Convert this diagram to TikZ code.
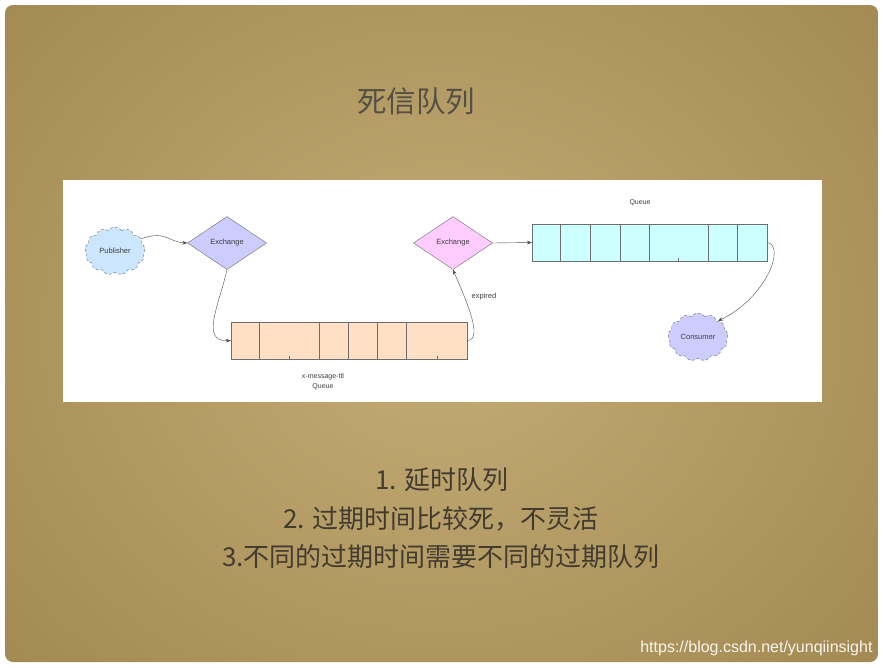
\documentclass[tikz,border=0pt]{standalone}
\usepackage{fontspec}
\usepackage{xcolor}
\usepackage{tikz}
\usetikzlibrary{arrows.meta,shapes.geometric,shapes.symbols,calc,positioning}
\setmainfont{Liberation Sans}
\newfontfamily\cjk{Noto Sans CJK SC}
\definecolor{slideinner}{HTML}{C4AC76}
\definecolor{slideouter}{HTML}{9A8048}
\definecolor{slidetext}{HTML}{423C30}
\definecolor{pubblue}{HTML}{CCE6FF}
\definecolor{lavender}{HTML}{CCCCFF}
\definecolor{pinkex}{HTML}{FFCCFF}
\definecolor{peach}{HTML}{FFE0C4}
\definecolor{cyanq}{HTML}{CCFFFF}
\definecolor{edgegray}{HTML}{6E6E6E}
\tikzset{
  lbl/.style={font=\fontsize{7.5}{8}\selectfont, text=black!75},
  exchange/.style={diamond, draw=edgegray, aspect=1.5, inner sep=0pt,
    minimum width=79pt, minimum height=53pt, lbl},
  cloudnode/.style={cloud, cloud puffs=13, cloud puff arc=110, draw=edgegray,
    densely dashed, aspect=1.3, minimum width=60pt, minimum height=48pt,
    inner sep=0pt, lbl},
  queuebox/.style={draw=edgegray, rectangle, inner sep=0pt, minimum height=37pt},
  flow/.style={->, draw=black!70, thin},
  note/.style={font=\cjk\fontsize{26}{28}\selectfont, text=slidetext},
}
\begin{document}
\begin{tikzpicture}[x=1pt,y=-1pt,>=Stealth]
  \useasboundingbox (0,0) rectangle (883,667);
  % slide
  \fill[white] (0,0) rectangle (883,667);
  \begin{scope}
    \clip[rounded corners=8pt] (5,5) rectangle (878,662);
    \shade[inner color=slideinner, outer color=slideouter]
      (-309,-320) rectangle (1191,980);
  \end{scope}
  \node[font=\cjk\fontsize{29.5}{31}\selectfont, text=slidetext!90] (title) at (416,101) {死信队列};
  % diagram panel
  \fill[white] (63,180) rectangle (822,402);
  \node[cloudnode, fill=pubblue] (pub) at (115,251) {Publisher};
  \node[exchange, fill=lavender] (exA) at (227,243) {Exchange};
  \node[exchange, fill=pinkex] (exB) at (453,243) {Exchange};
  \node[queuebox, fill=peach, minimum width=236pt] (qttl) at (349,340.5) {};
  \foreach \x in {259,319,348,377,406}
    \draw[edgegray] (\x,322) -- (\x,359);
  \foreach \x in {289,437}
    \draw[edgegray] (\x,356) -- (\x,359);
  \node[queuebox, fill=cyanq, minimum width=235pt] (qdl) at (649.5,242.5) {};
  \foreach \x in {560,590,620,649,708,737}
    \draw[edgegray] (\x,224) -- (\x,261);
  \draw[edgegray] (678,258) -- (678,261);
  \node[cloudnode, fill=lavender] (con) at (698,337) {Consumer};
  \node[lbl, align=center, font=\fontsize{7}{10}\selectfont] (ttllbl) at (323,382) {x-message-ttl\\Queue};
  \node[lbl, font=\fontsize{7}{8}\selectfont] (qlbl) at (640,203) {Queue};
  \node[lbl] (explbl) at (484,297) {expired};
  % connectors
  \draw[flow] (pub.25) .. controls (166,230) and (168,242) .. (exA.west);
  \draw[flow] (exA.south) .. controls (219,305) and (200,342) .. (qttl.west);
  \draw[flow] (qttl.east) .. controls (484,340) and (466,300) .. (exB.south);
  \draw[flow] (exB.east) -- (qdl.west);
  \draw[flow] (qdl.east) .. controls (786,246) and (766,298) .. (con.north east);
  % notes
  \node[note] (n1) at (442,480) {1. 延时队列};
  \node[note] (n2) at (441,519) {2. 过期时间比较死，不灵活};
  \node[note] (n3) at (441,557) {3.不同的过期时间需要不同的过期队列};
  \node[font=\fontsize{16}{17}\selectfont, text=white!92!brown, anchor=east] (wm) at (876,648) {https://blog.csdn.net/yunqiinsight};
\end{tikzpicture}
\end{document}
